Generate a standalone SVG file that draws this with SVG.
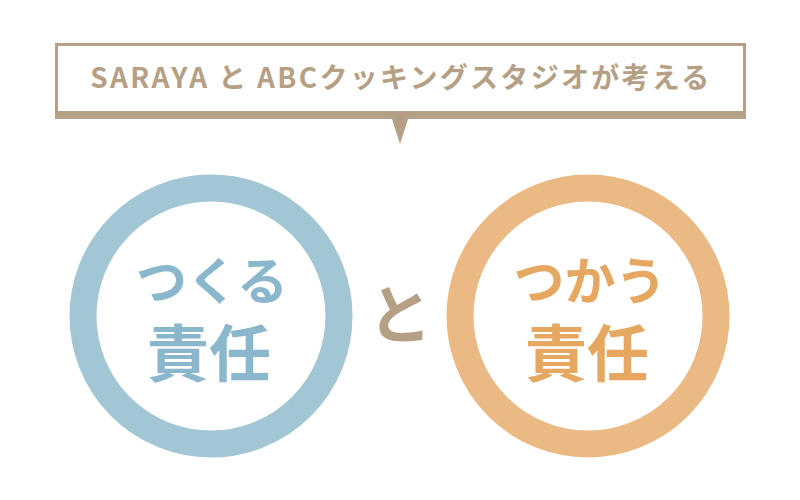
<svg xmlns="http://www.w3.org/2000/svg" width="800" height="500" viewBox="0 0 800 500">
<style>
.jp{font-family:"Noto Sans CJK JP","Noto Sans",sans-serif;font-weight:bold;text-anchor:middle}
</style>
<rect width="800" height="500" fill="#ffffff"/>
<g id="banner">
<path d="M55,43 H746 V119 H408 L400,144 L392,119 H55 Z" fill="#b5a086"/>
<rect x="58" y="46" width="685" height="65" fill="#ffffff"/>
<text class="jp" x="401" y="88" font-size="28" letter-spacing="2.3" fill="#b5a086">SARAYA と ABCクッキングスタジオが考える</text>
</g>
<g id="tsukuru">
<circle cx="211" cy="316" r="128" fill="#ffffff" stroke="#a3c6d4" stroke-width="27"/>
<text class="jp" fill="#8ab7cb"><tspan x="212" y="300" font-size="51">つくる</tspan><tspan x="209" y="377" font-size="62">責任</tspan></text>
</g>
<g id="to">
<text class="jp" x="400" y="338" font-size="64" fill="#b5a086">と</text>
</g>
<g id="tsukau">
<circle cx="588" cy="316" r="128" fill="#ffffff" stroke="#ebb983" stroke-width="27"/>
<text class="jp" fill="#e6a760"><tspan x="590" y="300" font-size="51">つかう</tspan><tspan x="587" y="377" font-size="62">責任</tspan></text>
</g>
</svg>
